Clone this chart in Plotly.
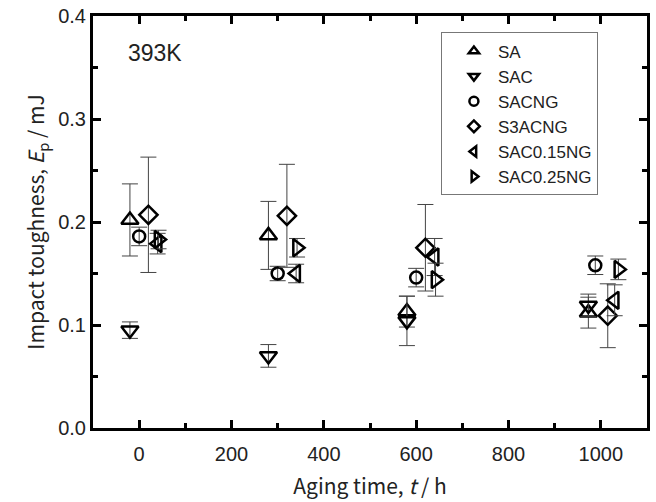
import plotly.graph_objects as go

series = ["SA", "SAC", "SACNG", "S3ACNG", "SAC0.15NG", "SAC0.25NG"]
symbols = ["triangle-up-open", "triangle-down-open", "circle-open", "diamond-open",
           "triangle-left-open", "triangle-right-open"]

# aging time (h), offset slightly per series as in the original plot
t_SA = [-20, 280, 580, 973]
E_SA = [0.202, 0.187, 0.113, 0.112]
e_SA = [0.035, 0.033, 0.015, 0.015]

t_SAC = [-20, 280, 580, 973]
E_SAC = [0.095, 0.070, 0.104, 0.119]
e_SAC = [0.008, 0.011, 0.024, 0.011]

t_SACNG = [0, 300, 600, 988]
E_SACNG = [0.186, 0.150, 0.146, 0.158]
e_SACNG = [0.009, 0.007, 0.009, 0.009]

t_S3ACNG = [20, 320, 620, 1015]
E_S3ACNG = [0.207, 0.206, 0.175, 0.109]
e_S3ACNG = [0.056, 0.050, 0.042, 0.031]

t_SAC015 = [40, 340, 640, 1030]
E_SAC015 = [0.179, 0.150, 0.166, 0.124]
e_SAC015 = [0.010, 0.009, 0.018, 0.015]

t_SAC025 = [42, 342, 642, 1038]
E_SAC025 = [0.183, 0.175, 0.144, 0.154]
e_SAC025 = [0.009, 0.009, 0.016, 0.010]

xs = [t_SA, t_SAC, t_SACNG, t_S3ACNG, t_SAC015, t_SAC025]
ys = [E_SA, E_SAC, E_SACNG, E_S3ACNG, E_SAC015, E_SAC025]
es = [e_SA, e_SAC, e_SACNG, e_S3ACNG, e_SAC015, e_SAC025]
sizes = [15, 15, 12, 14, 15, 15]

fig = go.Figure()
for name, sym, x, y, e, s in zip(series, symbols, xs, ys, es, sizes):
    fig.add_trace(go.Scatter(
        x=x, y=y, mode="markers", name=name, showlegend=False,
        marker=dict(symbol=sym, size=s, color="black", line=dict(width=2.5, color="black")),
        error_y=dict(type="data", array=e, visible=True, color="#444", thickness=1, width=8),
    ))
for name, sym in zip(series, symbols):
    fig.add_trace(go.Scatter(
        x=[None], y=[None], mode="markers", name=name,
        marker=dict(symbol=sym, size=9, color="black", line=dict(width=2.5, color="black")),
    ))

fig.add_annotation(x=0.06, y=0.91, xref="paper", yref="paper", text="393K", showarrow=False,
                   xanchor="left", yanchor="middle",
                   font=dict(family="Liberation Sans, Arial", size=23, color="#222"))

axis_common = dict(
    showline=True, linewidth=3, linecolor="black", mirror="allticks",
    ticks="inside", ticklen=8, tickwidth=3, tickcolor="black",
    showgrid=False, zeroline=False, automargin=False,
    tickfont=dict(family="Liberation Sans, Arial", size=20, color="#222"),
)
fig.update_xaxes(range=[-100, 1100], dtick=200, tick0=0, ticklabelstandoff=6,
                 minor=dict(dtick=100, ticks="inside", ticklen=5, tickwidth=3, tickcolor="black"),
                 title=dict(text="Aging time, <i>t</i> / h", standoff=16,
                            font=dict(family="Noto Sans CJK JP", size=21, color="#222")),
                 **axis_common)
fig.update_yaxes(range=[0, 0.4], dtick=0.1, tick0=0, tickformat=".1f",
                 minor=dict(dtick=0.05, ticks="inside", ticklen=5, tickwidth=3, tickcolor="black"),
                 title=dict(text="Impact toughness, <i>E</i><sub>p</sub> / mJ", standoff=8,
                            font=dict(family="Noto Sans CJK JP", size=21, color="#222")),
                 **axis_common)

fig.update_layout(
    width=656, height=502,
    margin=dict(l=93, r=9, t=16, b=74),
    paper_bgcolor="white", plot_bgcolor="white",
    legend=dict(x=0.628, y=0.96, xanchor="left", yanchor="top",
                bordercolor="#777", borderwidth=1, bgcolor="white",
                font=dict(family="Liberation Sans, Arial", size=17, color="#222"),
                tracegroupgap=0, itemwidth=38, indentation=8),
)
fig.write_html("out.html")
